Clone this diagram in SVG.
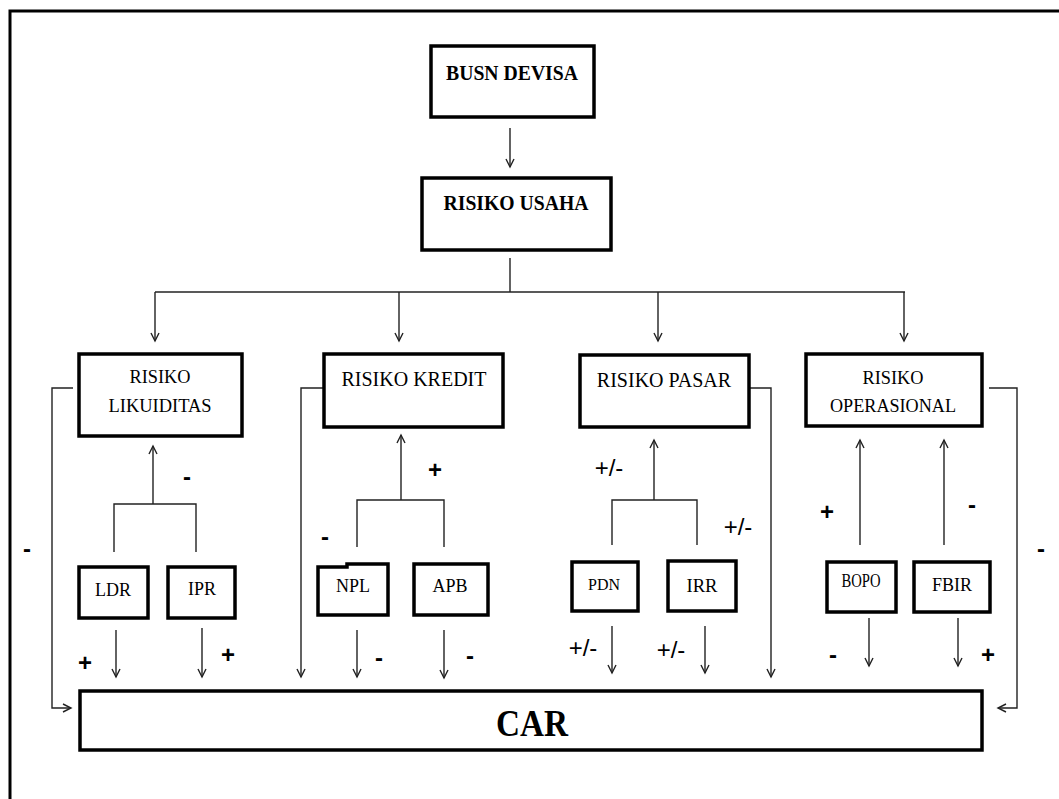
<svg xmlns="http://www.w3.org/2000/svg" width="1059" height="799" viewBox="0 0 1059 799">
<style>
.box{fill:#fff;stroke:#000;stroke-width:3.5}
.ln{fill:none;stroke:#222;stroke-width:1.4}
.t{font-family:"Liberation Serif","Times New Roman",serif;fill:#000;text-anchor:middle}
.b{font-weight:bold}
.s{font-family:"Liberation Sans",Arial,sans-serif;fill:#000;text-anchor:middle;font-size:24px}
.sb{font-weight:bold}
</style>
<defs>
<marker id="ah" markerWidth="12" markerHeight="12" refX="9" refY="5" orient="auto" markerUnits="userSpaceOnUse">
<path d="M1,1 L9,5 L1,9" fill="none" stroke="#222" stroke-width="1.4"/>
</marker>
</defs>
<rect x="0" y="0" width="1059" height="799" fill="#fff"/>
<rect x="10" y="11" width="1070" height="820" fill="none" stroke="#000" stroke-width="3"/>

<g id="connectors">
<line class="ln" x1="510" y1="128" x2="510" y2="167" marker-end="url(#ah)"/>
<line class="ln" x1="510" y1="258" x2="510" y2="292"/>
<line class="ln" x1="155" y1="292" x2="905" y2="292"/>
<line class="ln" x1="155" y1="292" x2="155" y2="341" marker-end="url(#ah)"/>
<line class="ln" x1="399" y1="292" x2="399" y2="341" marker-end="url(#ah)"/>
<line class="ln" x1="658" y1="292" x2="658" y2="341" marker-end="url(#ah)"/>
<line class="ln" x1="904" y1="292" x2="904" y2="341" marker-end="url(#ah)"/>

<polyline class="ln" points="73,388 52,388 52,708 71,708" marker-end="url(#ah)"/>
<line class="ln" x1="153" y1="504" x2="153" y2="446" marker-end="url(#ah)"/>
<polyline class="ln" points="114,552 114,504 196,504 196,552"/>
<line class="ln" x1="116" y1="630" x2="116" y2="677" marker-end="url(#ah)"/>
<line class="ln" x1="202" y1="628" x2="202" y2="677" marker-end="url(#ah)"/>

<polyline class="ln" points="323,388 301,388 301,677" marker-end="url(#ah)"/>
<line class="ln" x1="401" y1="500" x2="401" y2="435" marker-end="url(#ah)"/>
<polyline class="ln" points="357,547 357,500 444,500 444,547"/>
<line class="ln" x1="357" y1="630" x2="357" y2="677" marker-end="url(#ah)"/>
<line class="ln" x1="444" y1="630" x2="444" y2="678" marker-end="url(#ah)"/>

<polyline class="ln" points="750,388 771,388 771,677" marker-end="url(#ah)"/>
<line class="ln" x1="654" y1="500" x2="654" y2="440" marker-end="url(#ah)"/>
<polyline class="ln" points="612,545 612,500 697,500 697,545"/>
<line class="ln" x1="612" y1="626" x2="612" y2="673" marker-end="url(#ah)"/>
<line class="ln" x1="705" y1="626" x2="705" y2="673" marker-end="url(#ah)"/>

<polyline class="ln" points="989,388 1017,388 1017,708 998,708" marker-end="url(#ah)"/>
<line class="ln" x1="860" y1="545" x2="860" y2="440" marker-end="url(#ah)"/>
<line class="ln" x1="944" y1="545" x2="944" y2="440" marker-end="url(#ah)"/>
<line class="ln" x1="869" y1="618" x2="869" y2="666" marker-end="url(#ah)"/>
<line class="ln" x1="958" y1="618" x2="958" y2="666" marker-end="url(#ah)"/>
</g>

<g id="busn-devisa">
<rect class="box" x="431" y="46" width="163" height="71"/>
<text class="t b" x="512" y="80" font-size="22" textLength="132" lengthAdjust="spacingAndGlyphs">BUSN DEVISA</text>
</g>
<g id="risiko-usaha">
<rect class="box" x="422" y="178" width="189" height="72"/>
<text class="t b" x="516" y="210" font-size="22" textLength="145" lengthAdjust="spacingAndGlyphs">RISIKO USAHA</text>
</g>
<g id="risiko-likuiditas">
<rect class="box" x="79" y="354" width="163" height="82"/>
<text class="t" x="160" y="383" font-size="19" textLength="61" lengthAdjust="spacingAndGlyphs">RISIKO</text>
<text class="t" x="160" y="412" font-size="19" textLength="103" lengthAdjust="spacingAndGlyphs">LIKUIDITAS</text>
</g>
<g id="risiko-kredit">
<rect class="box" x="324" y="354" width="179" height="73"/>
<text class="t" x="414" y="386" font-size="20">RISIKO KREDIT</text>
</g>
<g id="risiko-pasar">
<rect class="box" x="580" y="355" width="169" height="72"/>
<text class="t" x="664" y="387" font-size="20">RISIKO PASAR</text>
</g>
<g id="risiko-operasional">
<rect class="box" x="806" y="354" width="176" height="72"/>
<text class="t" x="893" y="384" font-size="19" textLength="61" lengthAdjust="spacingAndGlyphs">RISIKO</text>
<text class="t" x="893" y="412" font-size="19" textLength="126" lengthAdjust="spacingAndGlyphs">OPERASIONAL</text>
</g>

<g id="ldr">
<rect class="box" x="79" y="567" width="69" height="51"/>
<text class="t" x="113" y="596" font-size="19" textLength="36" lengthAdjust="spacingAndGlyphs">LDR</text>
</g>
<g id="ipr">
<rect class="box" x="168" y="567" width="67" height="51"/>
<text class="t" x="202" y="595" font-size="19" textLength="28" lengthAdjust="spacingAndGlyphs">IPR</text>
</g>
<g id="npl">
<path class="box" d="M318,567 L347,567 L347,564 L388,564 L388,615 L318,615 Z"/>
<text class="t" x="353" y="592" font-size="19" textLength="34" lengthAdjust="spacingAndGlyphs">NPL</text>
</g>
<g id="apb">
<rect class="box" x="414" y="564" width="74" height="51"/>
<text class="t" x="450" y="592" font-size="19" textLength="35" lengthAdjust="spacingAndGlyphs">APB</text>
</g>
<g id="pdn">
<rect class="box" x="572" y="562" width="66" height="49"/>
<text class="t" x="604" y="590" font-size="17" textLength="32" lengthAdjust="spacingAndGlyphs">PDN</text>
</g>
<g id="irr">
<rect class="box" x="668" y="561" width="68" height="50"/>
<text class="t" x="702" y="592" font-size="19" textLength="31" lengthAdjust="spacingAndGlyphs">IRR</text>
</g>
<g id="bopo">
<rect class="box" x="827" y="562" width="69" height="50"/>
<text class="t" x="861" y="587" font-size="18" textLength="39" lengthAdjust="spacingAndGlyphs">BOPO</text>
</g>
<g id="fbir">
<rect class="box" x="914" y="562" width="76" height="50"/>
<text class="t" x="952" y="591" font-size="19" textLength="40" lengthAdjust="spacingAndGlyphs">FBIR</text>
</g>
<g id="car">
<rect class="box" x="80" y="691" width="902" height="59"/>
<text class="t b" x="532" y="736" font-size="37" textLength="72" lengthAdjust="spacingAndGlyphs">CAR</text>
</g>

<g id="labels">
<text class="s sb" x="27" y="557">-</text>
<text class="s sb" x="187" y="485">-</text>
<text class="s sb" x="85" y="671">+</text>
<text class="s sb" x="228" y="663">+</text>
<text class="s sb" x="325" y="545">-</text>
<text class="s sb" x="435" y="478">+</text>
<text class="s sb" x="379" y="666">-</text>
<text class="s sb" x="470" y="664">-</text>
<text class="s" x="609" y="476">+/-</text>
<text class="s" x="738" y="535">+/-</text>
<text class="s" x="583" y="656">+/-</text>
<text class="s" x="671" y="658">+/-</text>
<text class="s sb" x="827" y="520">+</text>
<text class="s sb" x="972" y="513">-</text>
<text class="s sb" x="833" y="663">-</text>
<text class="s sb" x="988" y="663">+</text>
<text class="s sb" x="1041" y="557">-</text>
</g>
</svg>
